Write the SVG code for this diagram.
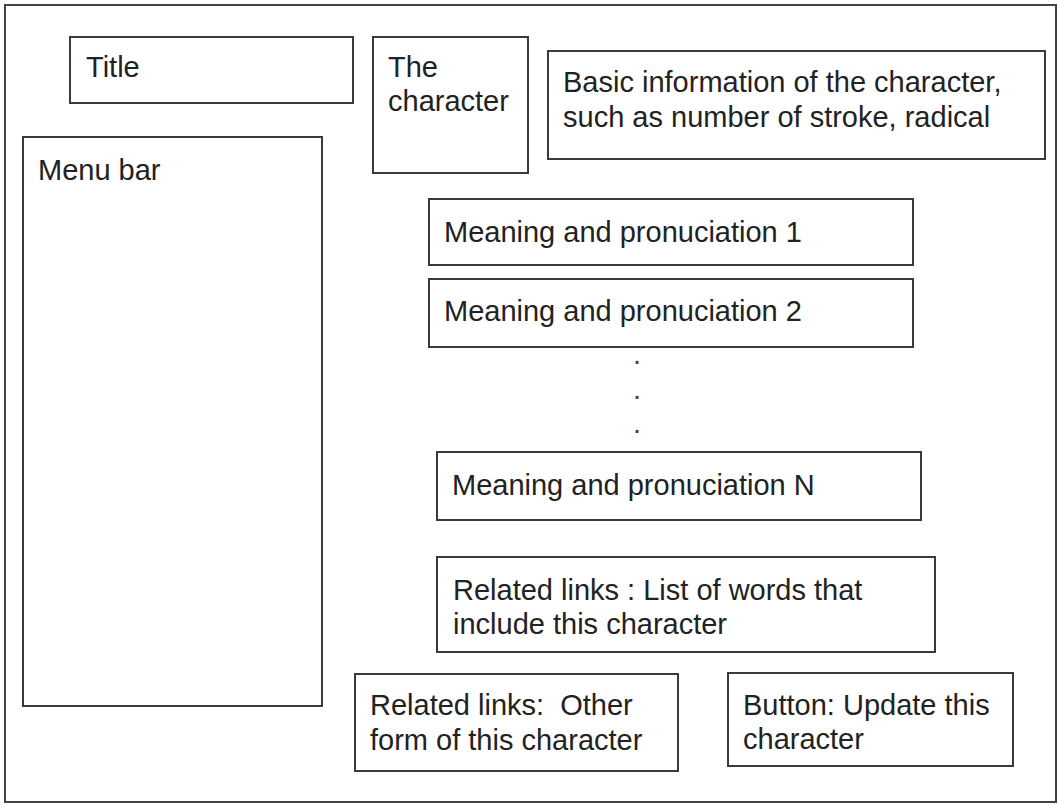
<svg xmlns="http://www.w3.org/2000/svg" width="1058" height="804" viewBox="0 0 1058 804">
  <style>
    .frame { fill: #ffffff; stroke: #444444; stroke-width: 2; }
    .box { fill: #ffffff; stroke: #3a3a3a; stroke-width: 2; }
    .lbl { font-family: "Liberation Sans", Arial, sans-serif; font-size: 29px; fill: #222222; }
    .dot { font-family: "Liberation Sans", Arial, sans-serif; font-size: 29px; fill: #444444; text-anchor: middle; }
  </style>
  <rect width="1058" height="804" fill="#ffffff"/>
  <g id="page">
    <rect class="frame" x="5" y="5" width="1051" height="797"/>
  </g>
  <g id="title">
    <rect class="box" x="70" y="37" width="283" height="66"/>
    <text class="lbl" x="86" y="77">Title</text>
  </g>
  <g id="menu-bar">
    <rect class="box" x="23" y="137" width="299" height="569"/>
    <text class="lbl" x="38" y="180">Menu bar</text>
  </g>
  <g id="the-character">
    <rect class="box" x="373" y="37" width="155" height="136"/>
    <text class="lbl" x="388" y="77">The</text>
    <text class="lbl" x="388" y="111">character</text>
  </g>
  <g id="basic-info">
    <rect class="box" x="548" y="51" width="497" height="108"/>
    <text class="lbl" x="563" y="92">Basic information of the character,</text>
    <text class="lbl" x="563" y="127">such as number of stroke, radical</text>
  </g>
  <g id="meaning-1">
    <rect class="box" x="429" y="199" width="484" height="66"/>
    <text class="lbl" x="444" y="242">Meaning and pronuciation 1</text>
  </g>
  <g id="meaning-2">
    <rect class="box" x="429" y="279" width="484" height="68"/>
    <text class="lbl" x="444" y="321">Meaning and pronuciation 2</text>
  </g>
  <g id="ellipsis">
    <text class="dot" x="637" y="364">.</text>
    <text class="dot" x="637" y="399">.</text>
    <text class="dot" x="637" y="433">.</text>
  </g>
  <g id="meaning-n">
    <rect class="box" x="437" y="452" width="484" height="68"/>
    <text class="lbl" x="452" y="495">Meaning and pronuciation N</text>
  </g>
  <g id="related-words">
    <rect class="box" x="437" y="557" width="498" height="95"/>
    <text class="lbl" x="453" y="600">Related links : List of words that</text>
    <text class="lbl" x="453" y="634">include this character</text>
  </g>
  <g id="related-forms">
    <rect class="box" x="355" y="674" width="323" height="97"/>
    <text class="lbl" x="370" y="715" xml:space="preserve">Related links:  Other</text>
    <text class="lbl" x="370" y="750">form of this character</text>
  </g>
  <g id="update-button">
    <rect class="box" x="728" y="673" width="285" height="93"/>
    <text class="lbl" x="743" y="715">Button: Update this</text>
    <text class="lbl" x="743" y="749">character</text>
  </g>
  <g id="connectors"></g>
</svg>
